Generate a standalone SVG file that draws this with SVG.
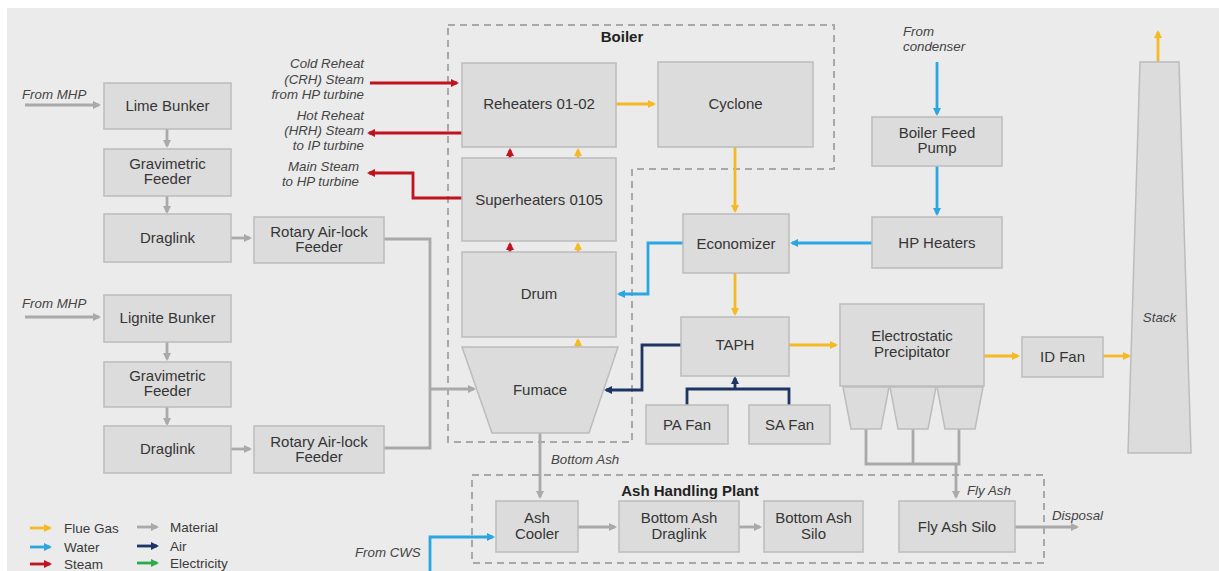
<svg xmlns="http://www.w3.org/2000/svg" width="1219" height="571" viewBox="0 0 1219 571">
<defs>
<style>
.bx{fill:#dcdcdc;stroke:#bcbcbc;stroke-width:1.5}
.t{font-family:"Liberation Sans",Arial,sans-serif;font-size:15px;fill:#353535;text-anchor:middle}
.b{font-weight:bold;fill:#222}
.i{font-family:"Liberation Sans",Arial,sans-serif;font-size:13.3px;font-style:italic;fill:#444}
.r{text-anchor:end}
.dash{fill:none;stroke:#a8a8a8;stroke-width:2;stroke-dasharray:7 5}
.c{fill:none;stroke-width:2.8}
.gas{stroke:#f5b924}
.wat{stroke:#2aa6e2}
.stm{stroke:#c1121f}
.mat{stroke:#a9a9a9}
.air{stroke:#1c3563}
.ele{stroke:#2bab4e}
.lg{font-family:"Liberation Sans",Arial,sans-serif;font-size:13.5px;fill:#3a3a3a}
</style>
<marker id="aGas" markerWidth="8" markerHeight="8" refX="6" refY="4" orient="auto" markerUnits="userSpaceOnUse"><path d="M0,0 L8,4 L0,8 z" fill="#f5b924"/></marker>
<marker id="aWat" markerWidth="8" markerHeight="8" refX="6" refY="4" orient="auto" markerUnits="userSpaceOnUse"><path d="M0,0 L8,4 L0,8 z" fill="#2aa6e2"/></marker>
<marker id="aStm" markerWidth="8" markerHeight="8" refX="6" refY="4" orient="auto" markerUnits="userSpaceOnUse"><path d="M0,0 L8,4 L0,8 z" fill="#c1121f"/></marker>
<marker id="aMat" markerWidth="8" markerHeight="8" refX="6" refY="4" orient="auto" markerUnits="userSpaceOnUse"><path d="M0,0 L8,4 L0,8 z" fill="#a9a9a9"/></marker>
<marker id="aAir" markerWidth="8" markerHeight="8" refX="6" refY="4" orient="auto" markerUnits="userSpaceOnUse"><path d="M0,0 L8,4 L0,8 z" fill="#1c3563"/></marker>
<marker id="aEle" markerWidth="8" markerHeight="8" refX="6" refY="4" orient="auto" markerUnits="userSpaceOnUse"><path d="M0,0 L8,4 L0,8 z" fill="#2bab4e"/></marker>
</defs>
<rect x="0" y="0" width="1219" height="571" fill="#ffffff"/>
<rect x="7" y="8" width="1212" height="563" fill="#ebebeb"/>

<g id="containers">
<path class="dash" d="M448,25 H834 V169 H632 V442 H448 Z"/>
<text class="t b" x="622" y="42" font-size="14">Boiler</text>
<rect class="dash" x="472" y="475" width="572" height="88"/>
<text class="t b" x="690" y="496" font-size="14">Ash Handling Plant</text>
</g>

<g id="connectors">
<path class="c mat" d="M25,105 H99" marker-end="url(#aMat)"/>
<path class="c mat" d="M167,129 V146" marker-end="url(#aMat)"/>
<path class="c mat" d="M167,196 V212" marker-end="url(#aMat)"/>
<path class="c mat" d="M231,238 H250" marker-end="url(#aMat)"/>
<path class="c mat" d="M384,239 H430 V389"/>
<path class="c mat" d="M384,448 H430 V389"/>
<path class="c mat" d="M430,389 H474" marker-end="url(#aMat)"/>
<path class="c mat" d="M25,317 H99" marker-end="url(#aMat)"/>
<path class="c mat" d="M167,342 V359" marker-end="url(#aMat)"/>
<path class="c mat" d="M167,407 V424" marker-end="url(#aMat)"/>
<path class="c mat" d="M231,449 H250" marker-end="url(#aMat)"/>
<path class="c mat" d="M540,433 V497" marker-end="url(#aMat)"/>
<path class="c mat" d="M578,527 H615" marker-end="url(#aMat)"/>
<path class="c mat" d="M739,527 H760" marker-end="url(#aMat)"/>
<path class="c mat" d="M866,429 V464 H959 V429 M913,429 V464"/>
<path class="c mat" d="M956,464 V497" marker-end="url(#aMat)"/>
<path class="c mat" d="M1015,527 H1077" marker-end="url(#aMat)"/>
<path class="c stm" d="M370,83 H457" marker-end="url(#aStm)"/>
<path class="c stm" d="M462,133 H369" marker-end="url(#aStm)"/>
<path class="c stm" d="M462,198 H413 V173 H369" marker-end="url(#aStm)"/>
<path class="c stm" d="M510,158 V150" marker-end="url(#aStm)"/>
<path class="c stm" d="M510,252 V244" marker-end="url(#aStm)"/>
<path class="c gas" d="M578,347 V340" marker-end="url(#aGas)"/>
<path class="c gas" d="M578,252 V244" marker-end="url(#aGas)"/>
<path class="c gas" d="M578,158 V150" marker-end="url(#aGas)"/>
<path class="c gas" d="M616,104 H654" marker-end="url(#aGas)"/>
<path class="c gas" d="M735,147 V211" marker-end="url(#aGas)"/>
<path class="c gas" d="M735,273 V314" marker-end="url(#aGas)"/>
<path class="c gas" d="M789,345 H836" marker-end="url(#aGas)"/>
<path class="c gas" d="M984,356 H1018" marker-end="url(#aGas)"/>
<path class="c gas" d="M1103,356 H1129" marker-end="url(#aGas)"/>
<path class="c gas" d="M1158,62 V32" marker-end="url(#aGas)"/>
<path class="c wat" d="M937,62 V114" marker-end="url(#aWat)"/>
<path class="c wat" d="M937,166 V214" marker-end="url(#aWat)"/>
<path class="c wat" d="M872,243 H792" marker-end="url(#aWat)"/>
<path class="c wat" d="M683,243 H648 V294 H619" marker-end="url(#aWat)"/>
<path class="c wat" d="M430,571 V537 H493" marker-end="url(#aWat)"/>
<path class="c air" d="M681,345 H642 V390 H606" marker-end="url(#aAir)"/>
<path class="c air" d="M687,405 V389 H789 V405"/>
<path class="c air" d="M735,389 V378" marker-end="url(#aAir)"/>
</g>

<g id="lime-bunker"><rect class="bx" x="104" y="83" width="127" height="46"/><text class="t" x="167.5" y="111">Lime Bunker</text></g>
<g id="grav-feeder-1"><rect class="bx" x="104" y="149" width="127" height="47"/><text class="t" x="167.5" y="169">Gravimetric</text><text class="t" x="167.5" y="184">Feeder</text></g>
<g id="draglink-1"><rect class="bx" x="104" y="214" width="127" height="48"/><text class="t" x="167.5" y="243">Draglink</text></g>
<g id="rotary-1"><rect class="bx" x="254" y="217" width="130" height="46"/><text class="t" x="319" y="237">Rotary Air-lock</text><text class="t" x="319" y="252">Feeder</text></g>

<g id="lignite-bunker"><rect class="bx" x="104" y="295" width="127" height="47"/><text class="t" x="167.5" y="323">Lignite Bunker</text></g>
<g id="grav-feeder-2"><rect class="bx" x="104" y="362" width="127" height="45"/><text class="t" x="167.5" y="381">Gravimetric</text><text class="t" x="167.5" y="396">Feeder</text></g>
<g id="draglink-2"><rect class="bx" x="104" y="426" width="127" height="47"/><text class="t" x="167.5" y="454">Draglink</text></g>
<g id="rotary-2"><rect class="bx" x="254" y="426" width="130" height="47"/><text class="t" x="319" y="447">Rotary Air-lock</text><text class="t" x="319" y="462">Feeder</text></g>

<g id="labels">
<text class="i" x="22" y="99">From MHP</text>
<text class="i" x="22" y="308">From MHP</text>
<text class="i r" x="364" y="68">Cold Reheat</text>
<text class="i r" x="364" y="83.5">(CRH) Steam</text>
<text class="i r" x="364" y="99">from HP turbine</text>
<text class="i r" x="364" y="120">Hot Reheat</text>
<text class="i r" x="364" y="135">(HRH) Steam</text>
<text class="i r" x="364" y="150">to IP turbine</text>
<text class="i r" x="359" y="171">Main Steam</text>
<text class="i r" x="359" y="186">to HP turbine</text>
<text class="i" x="903" y="36">From</text>
<text class="i" x="903" y="51">condenser</text>
<text class="i" x="551" y="464">Bottom Ash</text>
<text class="i" x="967" y="495">Fly Ash</text>
<text class="i" x="1052" y="520">Disposal</text>
<text class="i" x="355" y="557">From CWS</text>
</g>

<g id="reheaters"><rect class="bx" x="462" y="63" width="154" height="84"/><text class="t" x="539" y="109">Reheaters 01-02</text></g>
<g id="cyclone"><rect class="bx" x="658" y="62" width="155" height="85"/><text class="t" x="735.5" y="109">Cyclone</text></g>
<g id="superheaters"><rect class="bx" x="462" y="158" width="154" height="83"/><text class="t" x="539" y="205">Superheaters 0105</text></g>
<g id="drum"><rect class="bx" x="462" y="252" width="154" height="85"/><text class="t" x="539" y="299">Drum</text></g>
<g id="furnace"><path class="bx" d="M462,347 H618 L589,433 H492 Z"/><text class="t" x="540" y="395">Fumace</text></g>

<g id="economizer"><rect class="bx" x="683" y="214" width="106" height="59"/><text class="t" x="736" y="249">Economizer</text></g>
<g id="taph"><rect class="bx" x="681" y="317" width="108" height="59"/><text class="t" x="735" y="350">TAPH</text></g>
<g id="pa-fan"><rect class="bx" x="646" y="405" width="82" height="39"/><text class="t" x="687" y="430">PA Fan</text></g>
<g id="sa-fan"><rect class="bx" x="749" y="405" width="81" height="39"/><text class="t" x="789.5" y="430">SA Fan</text></g>

<g id="bfp"><rect class="bx" x="872" y="117" width="130" height="49"/><text class="t" x="937" y="138">Boiler Feed</text><text class="t" x="937" y="153">Pump</text></g>
<g id="hp-heaters"><rect class="bx" x="872" y="217" width="130" height="51"/><text class="t" x="937" y="248">HP Heaters</text></g>

<g id="esp">
<rect class="bx" x="840" y="304" width="144" height="82"/>
<path class="bx" d="M843,387 H889 L881,429 H851 Z"/>
<path class="bx" d="M890,387 H936 L928,429 H898 Z"/>
<path class="bx" d="M937,387 H983 L975,429 H945 Z"/>
<text class="t" x="912" y="341">Electrostatic</text><text class="t" x="912" y="357">Precipitator</text>
</g>
<g id="id-fan"><rect class="bx" x="1022" y="337" width="81" height="40"/><text class="t" x="1062.5" y="362">ID Fan</text></g>
<g id="stack"><path class="bx" d="M1140,62 H1179 L1191,453 H1128 Z"/><text class="i" x="1159.5" y="322" text-anchor="middle">Stack</text></g>

<g id="ash-cooler"><rect class="bx" x="496" y="501" width="82" height="51"/><text class="t" x="537" y="523">Ash</text><text class="t" x="537" y="539">Cooler</text></g>
<g id="ba-draglink"><rect class="bx" x="619" y="501" width="120" height="51"/><text class="t" x="679" y="523">Bottom Ash</text><text class="t" x="679" y="539">Draglink</text></g>
<g id="ba-silo"><rect class="bx" x="764" y="501" width="99" height="51"/><text class="t" x="813.5" y="523">Bottom Ash</text><text class="t" x="813.5" y="539">Silo</text></g>
<g id="fa-silo"><rect class="bx" x="899" y="501" width="116" height="51"/><text class="t" x="957" y="532">Fly Ash Silo</text></g>

<g id="legend">
<path class="c gas" d="M30,528 H50" marker-end="url(#aGas)"/><text class="lg" x="64" y="533">Flue Gas</text>
<path class="c wat" d="M30,547 H50" marker-end="url(#aWat)"/><text class="lg" x="64" y="552">Water</text>
<path class="c stm" d="M30,564 H50" marker-end="url(#aStm)"/><text class="lg" x="64" y="569">Steam</text>
<path class="c mat" d="M137,527 H157" marker-end="url(#aMat)"/><text class="lg" x="170" y="532">Material</text>
<path class="c air" d="M137,546 H157" marker-end="url(#aAir)"/><text class="lg" x="170" y="551">Air</text>
<path class="c ele" d="M137,563 H157" marker-end="url(#aEle)"/><text class="lg" x="170" y="568">Electricity</text>
</g>
</svg>
